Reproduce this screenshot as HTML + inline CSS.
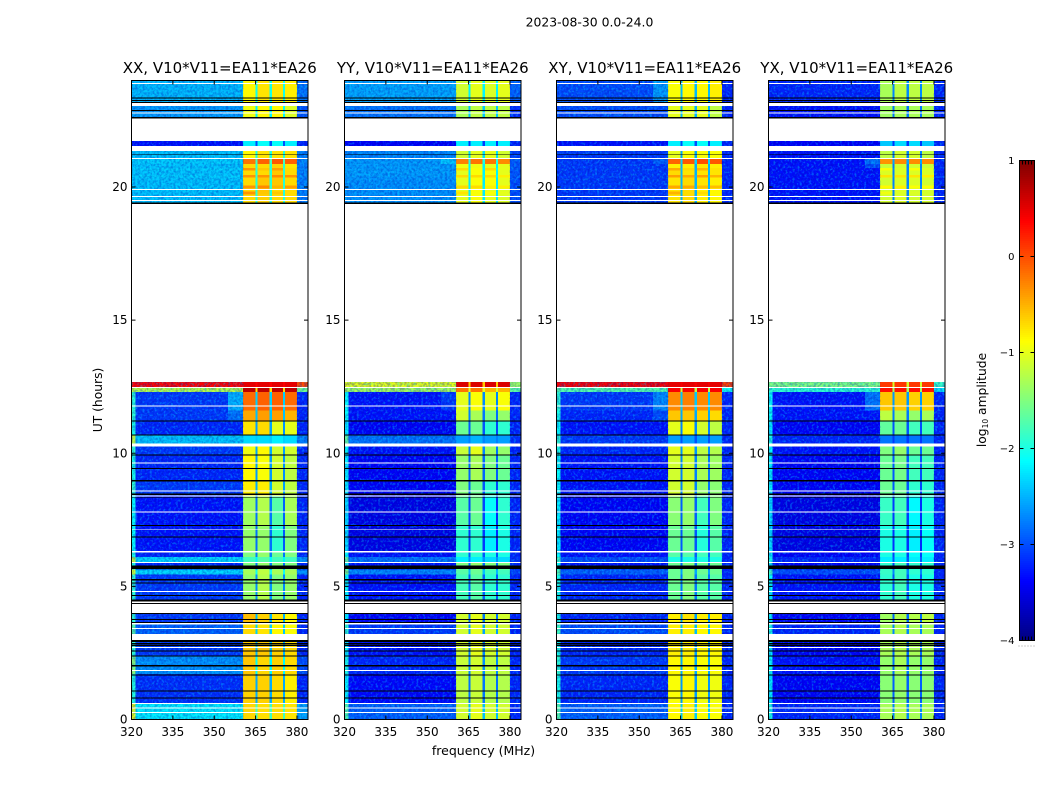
<!DOCTYPE html>
<html>
<head>
<meta charset="utf-8">
<title>2023-08-30 spectrogram</title>
<style>
html,body{margin:0;padding:0;background:#fff;}
svg{display:block;}
text{font-family:"DejaVu Sans","Liberation Sans",sans-serif;fill:#000;}
</style>
</head>
<body>
<svg id="fig" xmlns="http://www.w3.org/2000/svg" width="1050" height="800" viewBox="0 0 1050 800">
<defs>
<filter id="speckle" x="0" y="0" width="100%" height="100%">
<feTurbulence type="fractalNoise" baseFrequency="0.42" numOctaves="2" seed="4"/>
<feColorMatrix type="matrix" values="0 0 0 0 0  0 0 0 0 0  0 0 0 0 0.4  3 0 0 0 -1.1"/>
</filter>
<filter id="speckle-light" x="0" y="0" width="100%" height="100%">
<feTurbulence type="fractalNoise" baseFrequency="0.42" numOctaves="2" seed="9"/>
<feColorMatrix type="matrix" values="0 0 0 0 0  0 0 0 0 0.75  0 0 0 0 1  4 0 0 0 -2"/>
</filter>
</defs>
<rect x="0" y="0" width="1050" height="800" fill="#fff"/>
<text x="589.5" y="26.5" font-size="12.4" text-anchor="middle">2023-08-30 0.0-24.0</text>
<text transform="translate(102,400) rotate(-90)" font-size="12.3" text-anchor="middle">UT (hours)</text>
<text x="483.5" y="755" font-size="12.5" text-anchor="middle">frequency (MHz)</text>
<text transform="translate(986,400) rotate(-90)" font-size="12.3" text-anchor="middle">log<tspan font-size="7.5" dy="2">10</tspan><tspan dy="-2"> amplitude</tspan></text>
<g id="panels"></g>
<g id="colorbar"></g>
</svg>
<script>
// ---- chart data ----
const panelTitles = ["XX, V10*V11=EA11*EA26","YY, V10*V11=EA11*EA26","XY, V10*V11=EA11*EA26","YX, V10*V11=EA11*EA26"];
const xTickLabels = [320,335,350,365,380];
const yTickLabels = [0,5,10,15,20];
const colorbarTicks = [1,0,-1,-2,-3,-4];
const colorRange = [-4,1];
const freqRange = [320,384];
const utRange = [0,24];
// frequency cell boundaries (MHz): left strip, background, shoulder, sub-band/notch pairs, right edge
const channelEdges = [320,321.5,355,360.5,365,365.7,370,371,375,375.7,380,384];
// UT boundaries (hours) for each row of the level tables
const utBandEdges = [24,23.04,22.57,21.73,21.54,21.06,20.87,20.72,20.62,20.45,20.35,20.05,19.95,19.83,19.72,19.37,12.68,12.48,12.3,11.6,11.2,10.71,10.37,9.91,8.95,8.4,7.3,6.32,6.1,5.91,5.64,5.45,4.0,3.62,2.98,2.4,1.7,0.62,0];
// levels per UT band: log10 amplitude [background, shoulder, sub1, sub2, sub3, sub4]
const xxLevels = [
[-2.45,-2.45,-0.85,-0.75,-0.75,-0.8],[-2.6,-2.6,-0.95,-0.85,-0.85,-1.05],[-3.3,-3.3,-2.2,-2.1,-2.1,-2.2],[-3.3,-3.3,-2.2,-2.1,-2.1,-2.2],
[-2.4,-2.4,-0.85,-0.75,-0.75,-0.75],
[-2.35,-2.35,-0.2,-0.1,-0.05,-0.1],[-2.4,-2.4,-0.7,-0.7,-0.65,-0.75],[-2.35,-2.35,-0.35,-0.6,-0.4,-0.7],[-2.4,-2.4,-0.7,-0.7,-0.6,-0.7],
[-2.35,-2.35,-0.35,-0.35,-0.3,-0.35],[-2.4,-2.4,-0.7,-0.6,-0.6,-0.7],[-2.4,-2.4,-0.35,-0.3,-0.5,-0.4],[-2.4,-2.4,-0.7,-0.6,-0.7,-0.7],
[-2.4,-2.4,-0.35,-0.6,-0.6,-0.7],[-2.4,-2.4,-0.7,-0.65,-0.7,-0.7],[-2.4,-2.4,-0.7,-0.65,-0.7,-0.7],
[0.35,0.35,0.5,0.5,0.5,0.5],[-1.2,-1.2,0.7,0.7,0.7,0.7],[-3.1,-2.5,-0.15,-0.1,-0.1,-0.15],[-3.1,-2.8,-0.45,-0.4,-0.4,-0.5],
[-3.2,-3.2,-0.75,-0.7,-1.0,-1.0],[-2.4,-2.4,-2.3,-2.3,-2.2,-2.3],[-3.1,-3.1,-0.95,-0.85,-1.1,-1.1],[-3.2,-3.2,-0.85,-0.9,-1.1,-1.2],
[-3.1,-3.1,-0.8,-0.8,-1.1,-1.2],[-3.3,-3.3,-1.35,-1.25,-1.7,-1.3],[-3.3,-3.3,-1.4,-1.4,-1.9,-1.5],[-3.2,-3.2,-1.5,-1.4,-1.6,-1.5],
[-2.3,-2.3,-1.8,-1.7,-1.8,-1.8],[-3.2,-3.2,-1.5,-1.4,-1.5,-1.5],[-2.3,-2.3,-1.3,-1.2,-1.3,-1.3],[-3.1,-3.1,-1.4,-1.25,-1.5,-1.4],
[-3.1,-3.1,-0.55,-0.65,-0.75,-0.85],[-2.9,-2.9,-0.7,-0.75,-0.85,-0.9],[-3.1,-3.1,-0.6,-0.6,-0.65,-0.7],[-2.65,-2.65,-0.6,-0.68,-0.65,-0.7],
[-3.15,-3.15,-0.65,-0.65,-0.7,-0.8],[-2.2,-2.2,-0.68,-0.72,-0.72,-0.75]];
const yyLevels = [
[-2.55,-2.55,-1.1,-1.0,-1.05,-1.0],[-2.8,-2.8,-1.3,-1.2,-1.2,-1.2],[-3.4,-3.4,-2.2,-2.2,-2.2,-2.2],[-3.4,-3.4,-2.2,-2.2,-2.2,-2.2],
[-2.7,-2.7,-1.1,-1.0,-1.0,-1.1],
[-2.6,-2.4,-0.25,-0.2,-0.2,-0.3],[-2.6,-2.6,-0.95,-0.95,-1.0,-1.0],[-2.6,-2.6,-0.7,-0.9,-0.7,-1.0],[-2.6,-2.6,-1.0,-0.9,-0.9,-1.0],
[-2.6,-2.6,-0.7,-0.7,-0.7,-0.8],[-2.65,-2.65,-1.0,-0.9,-0.9,-1.0],[-2.65,-2.65,-0.7,-0.7,-0.8,-0.8],[-2.65,-2.65,-1.0,-0.9,-1.0,-1.05],
[-2.65,-2.65,-0.75,-0.9,-0.9,-1.0],[-2.65,-2.65,-1.0,-0.9,-1.0,-1.05],[-2.65,-2.65,-1.0,-0.9,-1.0,-1.05],
[-1.0,-1.0,0.55,0.55,0.55,0.55],[-1.3,-1.3,-0.2,-0.2,-0.5,-0.5],[-3.3,-3.1,-1.0,-0.9,-1.0,-0.9],[-3.3,-3.3,-1.1,-1.3,-1.5,-1.4],
[-3.4,-3.4,-1.6,-1.6,-1.9,-1.9],[-2.8,-2.8,-2.6,-2.5,-2.6,-2.6],[-3.3,-3.3,-1.15,-1.0,-1.35,-1.4],[-3.4,-3.4,-1.4,-1.3,-1.5,-1.6],
[-3.4,-3.4,-1.5,-1.6,-1.9,-1.9],[-3.5,-3.5,-1.7,-1.6,-2.1,-1.9],[-3.5,-3.5,-1.9,-1.9,-2.2,-2.0],[-3.3,-3.3,-1.9,-1.9,-2.0,-2.0],
[-2.8,-2.8,-2.2,-2.2,-2.3,-2.3],[-3.3,-3.3,-1.5,-1.4,-1.5,-1.5],[-2.7,-2.7,-1.7,-1.6,-1.8,-1.8],[-3.3,-3.3,-1.8,-1.7,-1.9,-1.9],
[-3.4,-3.4,-1.1,-1.0,-1.1,-1.1],[-3.1,-3.1,-1.1,-1.0,-1.1,-1.1],[-3.3,-3.3,-1.1,-1.0,-1.1,-1.1],[-3.2,-3.2,-1.15,-1.1,-1.2,-1.2],
[-3.35,-3.35,-1.2,-1.15,-1.25,-1.25],[-2.9,-2.9,-1.1,-1.0,-1.1,-1.1]];
const xyLevels = [
[-3.0,-2.6,-0.9,-0.85,-0.85,-0.8],[-3.0,-3.0,-1.0,-1.0,-1.0,-1.2],[-3.3,-3.3,-2.2,-2.1,-2.1,-2.2],[-3.3,-3.3,-2.2,-2.1,-2.1,-2.2],
[-3.1,-3.1,-1.0,-0.9,-0.9,-0.9],
[-3.1,-2.9,-0.1,-0.05,0.0,-0.05],[-3.1,-3.1,-0.8,-0.8,-0.75,-0.8],[-3.1,-3.1,-0.45,-0.7,-0.5,-0.75],[-3.1,-3.1,-0.7,-0.75,-0.75,-0.75],
[-3.1,-3.1,-0.4,-0.45,-0.4,-0.5],[-3.1,-3.1,-0.75,-0.7,-0.75,-0.8],[-3.1,-3.1,-0.45,-0.45,-0.55,-0.55],[-3.1,-3.1,-0.75,-0.7,-0.8,-0.85],
[-3.1,-3.1,-0.5,-0.7,-0.7,-0.85],[-3.1,-3.1,-0.75,-0.7,-0.8,-0.85],[-3.1,-3.1,-0.75,-0.7,-0.8,-0.85],
[0.4,0.4,0.5,0.5,0.5,0.5],[-1.7,-1.7,0.4,0.4,0.4,0.4],[-3.1,-2.7,-0.3,-0.25,-0.3,-0.3],[-3.2,-3.0,-0.6,-0.6,-0.65,-0.7],
[-3.3,-3.3,-1.0,-0.9,-1.1,-1.2],[-3.1,-3.1,-2.6,-2.6,-2.6,-2.6],[-3.2,-3.2,-1.0,-1.0,-1.2,-1.25],[-3.3,-3.3,-1.1,-1.1,-1.3,-1.35],
[-3.3,-3.3,-1.1,-1.1,-1.4,-1.45],[-3.4,-3.4,-1.45,-1.4,-1.8,-1.5],[-3.4,-3.4,-1.6,-1.6,-1.95,-1.7],[-3.3,-3.3,-1.7,-1.7,-1.8,-1.8],
[-3.0,-3.0,-2.0,-2.0,-2.0,-2.0],[-3.3,-3.3,-1.6,-1.5,-1.6,-1.6],[-2.9,-2.9,-1.6,-1.5,-1.6,-1.6],[-3.2,-3.2,-1.6,-1.5,-1.7,-1.7],
[-3.2,-3.2,-0.8,-0.75,-0.8,-0.8],[-3.0,-3.0,-0.8,-0.8,-0.85,-0.85],[-3.2,-3.2,-0.8,-0.8,-0.85,-0.85],[-3.1,-3.1,-0.85,-0.85,-0.9,-0.9],
[-3.2,-3.2,-0.9,-0.85,-0.95,-0.95],[-2.9,-2.9,-0.85,-0.8,-0.9,-0.9]];
const yxLevels = [
[-3.2,-3.2,-1.3,-1.2,-1.2,-1.2],[-3.3,-3.3,-1.35,-1.3,-1.3,-1.3],[-3.4,-3.4,-2.4,-2.3,-2.3,-2.4],[-3.4,-3.4,-2.4,-2.3,-2.3,-2.4],
[-3.3,-3.3,-1.2,-1.1,-1.1,-1.2],
[-3.3,-2.8,-0.35,-0.3,-0.3,-0.3],[-3.3,-3.0,-1.15,-1.1,-1.1,-1.15],[-3.3,-3.3,-0.9,-1.05,-0.9,-1.05],[-3.3,-3.3,-1.05,-1.05,-1.05,-1.05],
[-3.3,-3.3,-0.75,-0.75,-0.75,-0.8],[-3.3,-3.3,-1.1,-1.05,-1.05,-1.1],[-3.3,-3.3,-0.85,-0.8,-0.9,-0.9],[-3.3,-3.3,-1.1,-1.05,-1.1,-1.1],
[-3.3,-3.3,-0.95,-1.05,-1.05,-1.1],[-3.3,-3.3,-1.1,-1.05,-1.1,-1.1],[-3.3,-3.3,-1.1,-1.05,-1.1,-1.1],
[-1.5,-1.5,0.1,0.1,0.1,0.1],[-1.9,-1.9,0.3,0.3,0.3,0.3],[-3.3,-2.8,-0.6,-0.6,-0.65,-0.65],[-3.3,-3.3,-1.2,-1.3,-1.4,-1.3],
[-3.4,-3.4,-1.65,-1.6,-1.8,-1.8],[-3.2,-3.2,-2.8,-2.8,-2.8,-2.8],[-3.3,-3.3,-1.5,-1.4,-1.6,-1.6],[-3.4,-3.4,-1.6,-1.55,-1.8,-1.8],
[-3.4,-3.4,-1.6,-1.6,-1.9,-1.9],[-3.5,-3.5,-1.85,-1.8,-2.15,-2.0],[-3.5,-3.5,-2.0,-2.0,-2.2,-2.1],[-3.4,-3.4,-2.0,-2.0,-2.1,-2.1],
[-3.2,-3.2,-2.2,-2.2,-2.2,-2.2],[-3.4,-3.4,-1.9,-1.8,-1.9,-1.9],[-3.0,-3.0,-1.85,-1.8,-1.9,-1.9],[-3.3,-3.3,-1.9,-1.8,-2.0,-2.0],
[-3.4,-3.4,-1.35,-1.25,-1.25,-1.2],[-3.2,-3.2,-1.3,-1.25,-1.3,-1.3],[-3.4,-3.4,-1.3,-1.25,-1.3,-1.3],[-3.3,-3.3,-1.4,-1.3,-1.4,-1.4],
[-3.4,-3.4,-1.45,-1.4,-1.45,-1.45],[-3.2,-3.2,-1.3,-1.25,-1.3,-1.3]];
const panelLevels = [xxLevels,yyLevels,xyLevels,yxLevels];
// time ranges with no data (hours): white = missing, black = zero amplitude
const whiteGapStart = [23.91,23.16,22.8,22.575,21.54,21.09,19.93,19.66,19.51,19.37,12.495,11.79,10.37,9.66,8.61,8.41,7.82,7.14,6.32,5.91,4.82,4.44,4.33,3.62,3.43,3.21,2.72,1.86,0.62,0.45,0.28];
const whiteGapEnd   = [23.87,23.04,22.76,21.73,21.36,21.06,19.89,19.62,19.47,12.68,12.46,11.76,10.26,9.61,8.57,8.37,7.78,7.11,6.28,5.87,4.78,4.37,4.0,3.56,3.39,2.98,2.68,1.82,0.58,0.41,0.24];
const blackGapStart = [23.37,23.27,23.19,22.89,22.63,21.23,19.41,11.23,10.71,9.96,9.45,8.99,8.48,8.34,7.31,6.88,5.78,5.27,5.15,4.68,4.51,4.37,4.0,3.77,3.66,2.98,2.88,2.79,2.595,2.41,2.04,1.695,1.095,0.82,0.02];
const blackGapEnd   = [23.33,23.23,23.16,22.86,22.575,21.2,19.37,11.2,10.67,9.91,9.41,8.94,8.43,8.31,7.27,6.84,5.66,5.23,5.11,4.64,4.44,4.33,3.97,3.73,3.62,2.92,2.82,2.76,2.56,2.37,2.0,1.66,1.06,0.78,0];
// frequency spans (MHz) that carry visible pixel speckle
const speckleSpanStart = [320,380];
const speckleSpanEnd = [360.5,384];

// ---- layout ----
const NS = "http://www.w3.org/2000/svg";
const panelLeft = [131.5,344.5,556.5,768.5];
const panelWidth = 176.5;
const plotTop = 80.5, plotBottom = 719.5;
const cbLeft = 1019.5, cbRight = 1034.5, cbTop = 160.5, cbBottom = 640.5;

function xScale(freq, p){ return panelLeft[p] + (freq-freqRange[0])/(freqRange[1]-freqRange[0])*panelWidth; }
function yScale(ut){ return plotBottom - (ut-utRange[0])/(utRange[1]-utRange[0])*(plotBottom-plotTop); }
function cbScale(v){ return cbBottom - (v-colorRange[0])/(colorRange[1]-colorRange[0])*(cbBottom-cbTop); }
function clip01(a){ return Math.max(0,Math.min(1,a)); }
function jet(v){
  const t = clip01((v-colorRange[0])/(colorRange[1]-colorRange[0]));
  const r = clip01(1.5-Math.abs(4*t-3)), g = clip01(1.5-Math.abs(4*t-2)), b = clip01(1.5-Math.abs(4*t-1));
  return "rgb("+Math.round(r*255)+","+Math.round(g*255)+","+Math.round(b*255)+")";
}
function svgEl(parent, tag, attrs){
  const el = document.createElementNS(NS, tag);
  for (const k in attrs) el.setAttribute(k, attrs[k]);
  parent.appendChild(el);
  return el;
}
function cellValues(row, ut){
  const bg=row[0], sh=row[1], s1=row[2], s2=row[3], s3=row[4], s4=row[5];
  const left = ut <= 12.3 ? bg+1.2 : bg;
  const notch = s => bg + (s-bg)*0.25;
  const right = Math.max(bg-0.35,-3.2);
  return [left,bg,sh,s1,notch(s1),s2,notch(s2),s3,notch(s3),s4,right];
}

const panelsRoot = document.getElementById("panels");
panelTitles.forEach(function(title,p){
  const g = svgEl(panelsRoot,"g",{});
  
  

  const image = svgEl(g,"g",{"shape-rendering":"crispEdges"});
  
  
  panelLevels[p].forEach(function(row,r){
    const vals = cellValues(row,utBandEdges[r]);
    vals.forEach(function(v,c){
      const x0 = xScale(channelEdges[c],p), x1 = xScale(channelEdges[c+1],p);
      const y0 = yScale(utBandEdges[r]), y1 = yScale(utBandEdges[r+1]);
      const cell = svgEl(image,"rect",{x:x0,y:y0,width:x1-x0,height:y1-y0,fill:jet(v)});
      
      
    });
  });

  speckleSpanStart.forEach(function(f0,i){
    const sx = xScale(f0,p), sw = xScale(speckleSpanEnd[i],p)-sx;
    const noiseDark = svgEl(g,"rect",{x:sx,y:plotTop,width:sw,height:plotBottom-plotTop,filter:"url(#speckle)",opacity:"0.3"});
    
    
    const noiseLight = svgEl(g,"rect",{x:sx,y:plotTop,width:sw,height:plotBottom-plotTop,filter:"url(#speckle-light)",opacity:"0.35"});
    
    
  });

  const gapLayer = svgEl(g,"g",{"shape-rendering":"crispEdges"});
  
  
  whiteGapStart.forEach(function(h,i){
    const y0 = yScale(h), y1 = yScale(whiteGapEnd[i]);
    const gap = svgEl(gapLayer,"rect",{x:panelLeft[p],y:y0,width:panelWidth,height:y1-y0,fill:"#fff"});
    
    
  });
  blackGapStart.forEach(function(h,i){
    const y0 = yScale(h), y1 = yScale(blackGapEnd[i]);
    const gap = svgEl(gapLayer,"rect",{x:panelLeft[p],y:y0,width:panelWidth,height:y1-y0,fill:"#000"});
    
    
  });

  const frame = svgEl(g,"rect",{x:panelLeft[p],y:plotTop,width:panelWidth,height:plotBottom-plotTop,fill:"none",stroke:"#000","stroke-width":"1"});
  
  

  const titleEl = svgEl(g,"text",{x:panelLeft[p]+panelWidth/2,y:73,"font-size":"15","text-anchor":"middle"});
  titleEl.textContent = title;
  
  

  xTickLabels.forEach(function(f){
    const x = xScale(f,p);
    const t1 = svgEl(g,"line",{x1:x,x2:x,y1:plotBottom,y2:plotBottom-4,stroke:"#000"});
    
    
    const t2 = svgEl(g,"line",{x1:x,x2:x,y1:plotTop,y2:plotTop+4,stroke:"#000"});
    
    
    const lab = svgEl(g,"text",{x:x,y:736,"font-size":"12","text-anchor":"middle"});
    lab.textContent = f;
    
    
  });
  yTickLabels.forEach(function(h){
    const y = yScale(h);
    const t1 = svgEl(g,"line",{x1:panelLeft[p],x2:panelLeft[p]+4,y1:y,y2:y,stroke:"#000"});
    
    
    const t2 = svgEl(g,"line",{x1:panelLeft[p]+panelWidth,x2:panelLeft[p]+panelWidth-4,y1:y,y2:y,stroke:"#000"});
    
    
    const lab = svgEl(g,"text",{x:panelLeft[p]-4,y:y+4,"font-size":"12","text-anchor":"end"});
    lab.textContent = h;
    
    
  });
});

// ---- colorbar ----
const cb = document.getElementById("colorbar");
const cbRamp = svgEl(cb,"g",{"shape-rendering":"crispEdges"});


const cbSteps = 240;
for (let i=0;i<cbSteps;i++){
  const v0 = colorRange[0]+(colorRange[1]-colorRange[0])*i/cbSteps;
  const v1 = colorRange[0]+(colorRange[1]-colorRange[0])*(i+1)/cbSteps;
  const step = svgEl(cbRamp,"rect",{x:cbLeft,y:cbScale(v1),width:cbRight-cbLeft,height:cbScale(v0)-cbScale(v1)+0.5,fill:jet((v0+v1)/2)});
  
  
}
const cbFrame = svgEl(cb,"rect",{x:cbLeft,y:cbTop,width:cbRight-cbLeft,height:cbBottom-cbTop,fill:"none",stroke:"#000"});


colorbarTicks.forEach(function(v){
  const y = cbScale(v);
  const t1 = svgEl(cb,"line",{x1:cbLeft,x2:cbLeft+4,y1:y,y2:y,stroke:"#000"});
  
  
  const t2 = svgEl(cb,"line",{x1:cbRight,x2:cbRight-4,y1:y,y2:y,stroke:"#000"});
  
  
  const lab = svgEl(cb,"text",{x:cbLeft-5,y:y+3.5,"font-size":"10","text-anchor":"end"});
  lab.textContent = v<0 ? "\u2212"+Math.abs(v) : String(v);
  
  
});
[0.2,0.4,0.6,0.8].forEach(function(frac){
  const x = cbLeft + frac*(cbRight-cbLeft);
  const t1 = svgEl(cb,"line",{x1:x,x2:x,y1:cbTop,y2:cbTop+4,stroke:"#000"});
  
  
  const t2 = svgEl(cb,"line",{x1:x,x2:x,y1:cbBottom,y2:cbBottom-4,stroke:"#000"});
  
  
});
const cbDots = svgEl(cb,"line",{x1:cbLeft-1,x2:cbRight,y1:646,y2:646,stroke:"#999","stroke-dasharray":"1 2"});


</script>
</body>
</html>
